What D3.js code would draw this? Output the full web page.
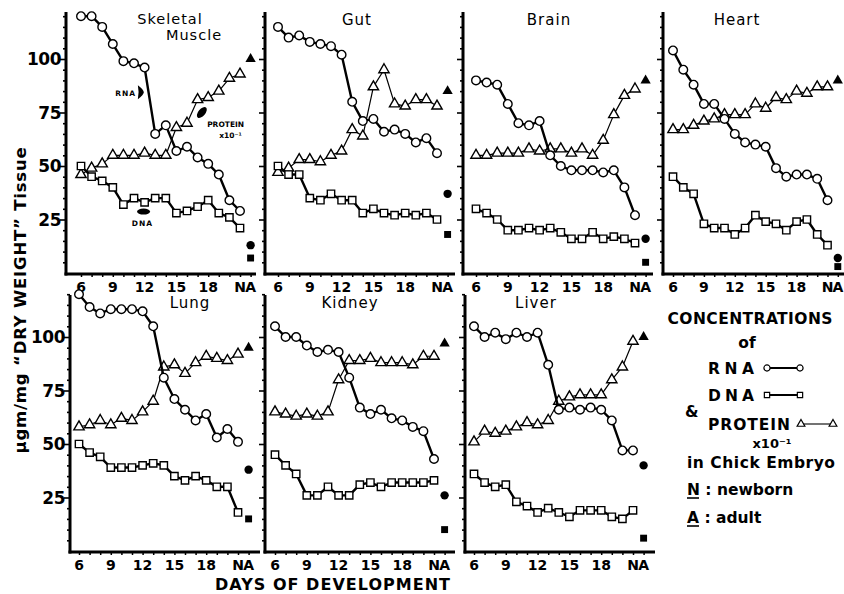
<!DOCTYPE html>
<html>
<head>
<meta charset="utf-8">
<script src="https://cdn.jsdelivr.net/npm/d3@7"></script>
<style>
  body { margin: 0; background: #fff; }
  text { font-family: "DejaVu Sans", sans-serif; fill: #000; }
</style>
</head>
<body>
<svg id="chart" width="844" height="594"></svg>
<script>
// days of development, N = newborn (last point of each curve)
const days = [6, 7, 8, 9, 10, 11, 12, 13, 14, 15, 16, 17, 18, 19, 20, "N"];
const xTickLabels = [6, 9, 12, 15, 18, "N", "A"];
const yTickLabels = [25, 50, 75, 100];
const tissues = ["Skeletal Muscle", "Gut", "Brain", "Heart", "Lung", "Kidney", "Liver"];

// µg/mg dry weight, protein x10^-1
const rnaSkeletal = [120, 120, 115, 107, 99, 98, 96, 65, 69, 57, 59, 54, 51, 46, 34, 29];
const dnaSkeletal = [50, 45, 43, 40, 32, 35, 33, 35, 35, 28, 29, 31, 34, 28, 26, 21];
const proteinSkeletal = [46, 49, 51, 55, 55, 55, 56, 55, 55, 68, 70, 81, 82, 85, 91, 93];
const adultSkeletal = [13, 7, 100];

const rnaGut = [115, 110, 111, 108, 107, 106, 102, 80, 71, 72, 66, 67, 65, 61, 63, 56];
const dnaGut = [50, 46, 46, 35, 34, 37, 34, 34, 28, 30, 28, 27, 28, 27, 28, 25];
const proteinGut = [47, 49, 53, 53, 52, 55, 57, 67, 64, 87, 95, 79, 78, 81, 81, 78];
const adultGut = [37, 18, 85];

const rnaBrain = [90, 89, 88, 79, 70, 69, 71, 55, 50, 48, 48, 48, 47, 48, 40, 27];
const dnaBrain = [30, 28, 25, 20, 20, 21, 20, 21, 19, 16, 16, 19, 16, 17, 16, 14];
const proteinBrain = [55, 55, 56, 56, 56, 58, 57, 58, 58, 56, 58, 55, 62, 74, 83, 86];
const adultBrain = [16, 5, 90];

const rnaHeart = [104, 95, 88, 79, 79, 72, 65, 61, 60, 59, 49, 45, 46, 46, 44, 34];
const dnaHeart = [45, 40, 37, 23, 21, 21, 18, 21, 27, 24, 23, 20, 24, 25, 18, 13];
const proteinHeart = [67, 67, 69, 71, 72, 74, 74, 74, 79, 77, 82, 81, 85, 84, 87, 87];
const adultHeart = [7, 3, 90];

const rnaLung = [120, 114, 111, 113, 113, 113, 112, 105, 81, 71, 66, 61, 64, 53, 57, 51];
const dnaLung = [50, 46, 44, 39, 39, 39, 40, 41, 40, 35, 33, 35, 33, 30, 30, 18];
const proteinLung = [58, 59, 61, 59, 62, 61, 65, 70, 86, 87, 83, 88, 91, 90, 89, 92];
const adultLung = [38, 15, 95];

const rnaKidney = [105, 100, 100, 96, 93, 94, 93, 81, 67, 64, 66, 62, 61, 58, 56, 43];
const dnaKidney = [45, 40, 36, 26, 26, 30, 26, 26, 31, 32, 30, 32, 32, 32, 32, 33];
const proteinKidney = [65, 64, 63, 64, 63, 65, 80, 89, 89, 90, 88, 88, 88, 87, 91, 91];
const adultKidney = [26, 10, 97];

const rnaLiver = [105, 100, 102, 99, 102, 100, 102, 87, 66, 67, 66, 67, 66, 61, 47, 47];
const dnaLiver = [36, 32, 30, 31, 23, 21, 18, 20, 18, 16, 19, 19, 19, 16, 15, 19];
const proteinLiver = [51, 56, 55, 56, 58, 60, 59, 61, 70, 72, 73, 73, 73, 80, 86, 98];
const adultLiver = [40, 6, 100];

const panels = [
  { rna: rnaSkeletal, dna: dnaSkeletal, protein: proteinSkeletal, adult: adultSkeletal },
  { rna: rnaGut, dna: dnaGut, protein: proteinGut, adult: adultGut },
  { rna: rnaBrain, dna: dnaBrain, protein: proteinBrain, adult: adultBrain },
  { rna: rnaHeart, dna: dnaHeart, protein: proteinHeart, adult: adultHeart },
  { rna: rnaLung, dna: dnaLung, protein: proteinLung, adult: adultLung },
  { rna: rnaKidney, dna: dnaKidney, protein: proteinKidney, adult: adultKidney },
  { rna: rnaLiver, dna: dnaLiver, protein: proteinLiver, adult: adultLiver }
];

// layout
const cells = [
  { x0: 66, off: 15, step: 10.6, row: 0, tx: 170 }, { x0: 265, off: 13, step: 10.6, row: 0, tx: 357 },
  { x0: 463, off: 13, step: 10.6, row: 0, tx: 549 }, { x0: 663, off: 10, step: 10.3, row: 0, tx: 737 },
  { x0: 70, off: 9, step: 10.6, row: 1, tx: 190 }, { x0: 265, off: 10, step: 10.6, row: 1, tx: 350 },
  { x0: 465, off: 9, step: 10.6, row: 1, tx: 536 }
];
const rows = [{ base: 274, top: 12 }, { base: 552, top: 295 }];
const dayPos = d => d === "N" ? 21 : d === "A" ? 22 : d;

const svg = d3.select("#chart");

panels.forEach((p, i) => {
  const c = cells[i], r = rows[c.row];
  const x = d3.scaleLinear().domain([6, 22]).range([c.x0 + c.off, c.x0 + c.off + 16 * c.step]);
  const y = d3.scaleLinear().domain([0, 120]).range([r.base - 1, r.base - 1 - 120 * 2.14]);
  const g = svg.append("g");

  // y axis with minor ticks every 5
  const yAxis = d3.axisLeft(y).tickValues(d3.range(5, 121, 5)).tickFormat("")
    .tickSize(3).tickSizeOuter(0);
  g.append("g").attr("transform", `translate(${c.x0},0)`).call(yAxis)
    .call(s => s.select(".domain").remove())
    .call(s => s.selectAll("line").attr("stroke-width", 1.6)
      .attr("x2", v => yTickLabels.includes(v) ? -6 : -3));
  g.append("line").attr("x1", c.x0).attr("x2", c.x0)
    .attr("y1", r.top).attr("y2", r.base + 1.5)
    .attr("stroke", "#000").attr("stroke-width", 3);

  // x axis
  const xAxis = d3.axisBottom(x).tickValues(d3.range(6, 23)).tickFormat("").tickSize(3).tickSizeOuter(0);
  g.append("g").attr("transform", `translate(0,${r.base})`).call(xAxis)
    .call(s => s.select(".domain").remove())
    .call(s => s.selectAll("line").attr("stroke-width", 1.5));
  g.append("line").attr("x1", c.x0 - 1.5).attr("x2", Math.min(c.x0 + 190, 844))
    .attr("y1", r.base).attr("y2", r.base)
    .attr("stroke", "#000").attr("stroke-width", 3);

  g.selectAll(".xl").data(xTickLabels).join("text")
    .attr("x", d => x(dayPos(d))).attr("y", r.base + 18)
    .attr("text-anchor", "middle").attr("font-size", 14).attr("font-weight", "bold")
    .text(d => d);

  if (c.x0 < 100) {
    g.selectAll(".yl").data(yTickLabels).join("text")
      .attr("x", c.x0 - 5).attr("y", d => y(d) + 6)
      .attr("text-anchor", "end").attr("font-size", 17).attr("font-weight", "bold")
      .attr("letter-spacing", -0.5)
      .text(d => d);
  }

  // title
  const name = tissues[i];
  if (name === "Skeletal Muscle") {
    g.append("text").attr("x", c.tx).attr("y", r.top + 12).attr("text-anchor", "middle")
      .attr("font-size", 14.5).attr("letter-spacing", 1).text("Skeletal");
    g.append("text").attr("x", c.tx + 24).attr("y", r.top + 28).attr("text-anchor", "middle")
      .attr("font-size", 14.5).attr("letter-spacing", 1).text("Muscle");
  } else {
    g.append("text").attr("x", c.tx).attr("y", r.top + 13).attr("text-anchor", "middle")
      .attr("font-size", 15).attr("letter-spacing", 1).text(name);
  }

  const line = d3.line().x((d, j) => x(dayPos(days[j]))).y(d => y(d));
  const series = [
    { vals: p.protein, sym: d3.symbolTriangle, size: 46, w: 1.2 },
    { vals: p.dna, sym: d3.symbolSquare, size: 54, w: 2.4 },
    { vals: p.rna, sym: d3.symbolCircle, size: 58, w: 2.4 }
  ];
  series.forEach(s => {
    g.append("path").datum(s.vals).attr("d", line)
      .attr("fill", "none").attr("stroke", "#000").attr("stroke-width", s.w)
      .attr("stroke-linejoin", "round");
    g.selectAll(null).data(s.vals).join("path")
      .attr("transform", (d, j) => `translate(${x(dayPos(days[j]))},${y(d)})`)
      .attr("d", d3.symbol(s.sym, s.size))
      .attr("fill", "#fff").attr("stroke", "#000").attr("stroke-width", 1.4);
  });

  // adult values, filled
  const adultSyms = [[d3.symbolCircle, 55], [d3.symbolSquare, 48], [d3.symbolTriangle, 46]];
  g.selectAll(null).data(p.adult).join("path")
    .attr("transform", d => `translate(${x(dayPos("A"))},${y(d)})`)
    .attr("d", (d, k) => d3.symbol(adultSyms[k][0], adultSyms[k][1])())
    .attr("fill", "#000");

  // pointer labels in the first panel
  if (name === "Skeletal Muscle") {
    g.append("text").attr("x", x(11.2)).attr("y", y(82.5)).attr("text-anchor", "end")
      .attr("font-size", 7.5).attr("font-weight", "bold").attr("letter-spacing", 1).text("RNA");
    g.append("path").attr("transform", `translate(${x(11.6)},${y(84.5)})`)
      .attr("d", "M-2.5,-7 Q3,-3 3.5,0 Q3,3 -2.5,7 Q-1,0 -2.5,-7 Z").attr("fill", "#000");
    g.append("ellipse").attr("cx", x(17.4)).attr("cy", y(75)).attr("rx", 3.5).attr("ry", 6.5)
      .attr("transform", `rotate(40,${x(17.4)},${y(75)})`).attr("fill", "#000");
    g.append("text").attr("x", x(17.9)).attr("y", y(68)).attr("font-size", 7.5)
      .attr("font-weight", "bold").text("PROTEIN");
    g.append("text").attr("x", x(20.1)).attr("y", y(63.3)).attr("text-anchor", "middle")
      .attr("font-size", 7.5).attr("font-weight", "bold").text("x10⁻¹");
    g.append("ellipse").attr("cx", x(11.9)).attr("cy", y(28.7)).attr("rx", 6.5).attr("ry", 3)
      .attr("fill", "#000");
    g.append("text").attr("x", x(11.8)).attr("y", y(22)).attr("text-anchor", "middle")
      .attr("font-size", 7.5).attr("font-weight", "bold").attr("letter-spacing", 1).text("DNA");
  }
});

// axis titles
svg.append("text").attr("transform", "translate(26,300) rotate(-90)")
  .attr("text-anchor", "middle").attr("font-size", 16.5).attr("font-weight", "bold")
  .attr("letter-spacing", 0.8).text("µgm/mg \u201CDRY WEIGHT\u201D Tissue");
svg.append("text").attr("x", 215).attr("y", 590).attr("font-size", 16)
  .attr("font-weight", "bold").attr("textLength", 235).attr("lengthAdjust", "spacing")
  .text("DAYS  OF  DEVELOPMENT");

// legend
const lg = svg.append("g");
lg.append("text").attr("x", 750).attr("y", 324).attr("text-anchor", "middle")
  .attr("font-size", 15.5).attr("font-weight", "bold").attr("textLength", 165)
  .text("CONCENTRATIONS");
lg.append("text").attr("x", 747).attr("y", 348).attr("text-anchor", "middle")
  .attr("font-size", 15.5).attr("font-weight", "bold").text("of");

const legendItems = [
  { label: "RNA", y: 368, sym: d3.symbolCircle, size: 30, w: 2.2, x1: 767, x2: 800, tw: 46 },
  { label: "DNA", y: 395, sym: d3.symbolSquare, size: 28, w: 2.2, x1: 767, x2: 800, tw: 46 },
  { label: "PROTEIN", y: 424, sym: d3.symbolTriangle, size: 26, w: 1.1, x1: 801, x2: 833, tw: 82 }
];
legendItems.forEach(it => {
  lg.append("text").attr("x", 708).attr("y", it.y + 6).attr("font-size", 15.5)
    .attr("font-weight", "bold").attr("textLength", it.tw).text(it.label);
  lg.append("line").attr("x1", it.x1).attr("x2", it.x2).attr("y1", it.y).attr("y2", it.y)
    .attr("stroke", "#000").attr("stroke-width", it.w);
  lg.selectAll(null).data([it.x1, it.x2]).join("path")
    .attr("transform", d => `translate(${d},${it.y})`)
    .attr("d", d3.symbol(it.sym, it.size))
    .attr("fill", "#fff").attr("stroke", "#000").attr("stroke-width", 1.2);
});
lg.append("text").attr("x", 685).attr("y", 417).attr("font-size", 15.5)
  .attr("font-weight", "bold").text("&");
lg.append("text").attr("x", 772).attr("y", 448).attr("text-anchor", "middle")
  .attr("font-size", 13).attr("font-weight", "bold").text("x10⁻¹");
lg.append("text").attr("x", 687).attr("y", 468).attr("font-size", 15.5)
  .attr("font-weight", "bold").attr("textLength", 148).text("in  Chick Embryo");
lg.append("text").attr("x", 687).attr("y", 495).attr("font-size", 15.5)
  .attr("font-weight", "bold").text("N : newborn");
lg.append("text").attr("x", 687).attr("y", 523).attr("font-size", 15.5)
  .attr("font-weight", "bold").text("A : adult");
lg.selectAll(null).data([498, 526]).join("line")
  .attr("x1", 687).attr("x2", 699).attr("y1", d => d).attr("y2", d => d)
  .attr("stroke", "#000").attr("stroke-width", 1.6);
</script>
</body>
</html>
